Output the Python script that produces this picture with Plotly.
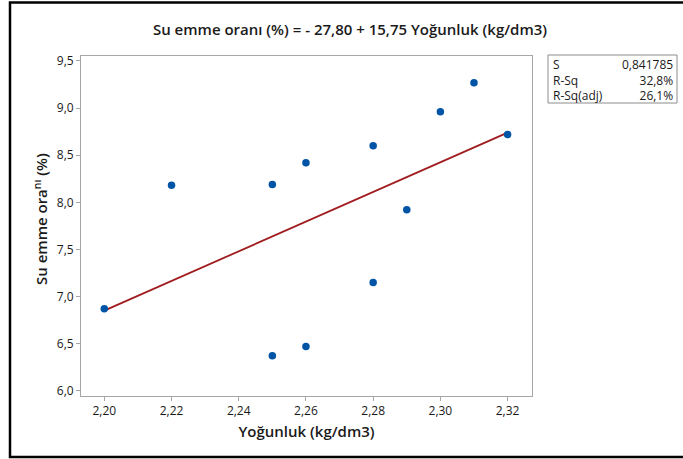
import plotly.graph_objects as go

# Density (kg/dm3) and water absorption (%) of the samples
yogunluk = [2.20, 2.22, 2.25, 2.25, 2.26, 2.26, 2.28, 2.28, 2.29, 2.30, 2.31, 2.32]
su_emme = [6.87, 8.18, 8.19, 6.37, 8.42, 6.47, 8.60, 7.15, 7.92, 8.96, 9.27, 8.72]

# Fitted regression: y = b0 + b1 * x
b0, b1 = -27.80, 15.75
fit_x = [2.20, 2.32]
fit_y = [b0 + b1 * x for x in fit_x]

# Model summary
stat_names = ["S", "R-Sq", "R-Sq(adj)"]
stat_values = ["0,841785", "32,8%", "26,1%"]

x_ticks = [2.20, 2.22, 2.24, 2.26, 2.28, 2.30, 2.32]
y_ticks = [6.0, 6.5, 7.0, 7.5, 8.0, 8.5, 9.0, 9.5]

FONT = "Open Sans"
TXT = "#1a1a1a"
AXIS = "#a6a6a6"

# plot area in pixels
L, R, T, B = 81, 532, 56, 396
W_IN, H_IN = R - L, B - T


def px_x(p):
    return (p - L) / W_IN


def px_y(p):
    return (B - p) / H_IN


fig = go.Figure()
fig.add_trace(go.Scatter(
    x=fit_x, y=fit_y, mode="lines",
    line=dict(color="#a01c1f", width=1.8),
    hoverinfo="skip", showlegend=False,
))
fig.add_trace(go.Scatter(
    x=yogunluk, y=su_emme, mode="markers",
    marker=dict(color="#0054a6", size=7.5),
    showlegend=False,
))

axis_common = dict(
    showgrid=False, zeroline=False,
    showline=True, linecolor=AXIS, linewidth=1, mirror=True,
    ticks="outside", ticklen=4, tickcolor=AXIS, tickwidth=1,
    tickfont=dict(family=FONT, size=12, color=TXT),
)

fig.update_layout(
    width=683, height=459,
    margin=dict(l=L, r=683 - R, t=T, b=459 - B),
    paper_bgcolor="white", plot_bgcolor="white",
    separators=",.",
    font=dict(family=FONT, color=TXT),
    title=dict(
        text="Su emme oranı (%) = - 27,80 + 15,75 Yoğunluk (kg/dm3)",
        font=dict(family=FONT, size=15, color=TXT, weight=600),
        x=350 / 683, xanchor="center", xref="container",
        y=1 - 30 / 459, yanchor="middle", yref="container",
    ),
    xaxis=dict(
        axis_common,
        range=[2.19307, 2.32726],
        tickvals=x_ticks, tickformat=".2f",
        title=dict(text="Yoğunluk (kg/dm3)", standoff=8,
                   font=dict(family=FONT, size=15, color=TXT, weight=600)),
    ),
    yaxis=dict(
        axis_common,
        range=[5.944, 9.553],
        tickvals=y_ticks, tickformat=".1f",
    ),
)

# Y axis title with the raised "nı"
fig.add_annotation(text="Su emme ora<sup>nı</sup> (%)",
                   xref="paper", yref="paper",
                   x=px_x(40), y=px_y(219), textangle=-90,
                   xanchor="center", yanchor="middle", showarrow=False,
                   font=dict(family=FONT, size=15, color=TXT, weight=600))

# Outer frame around the whole chart
fig.add_shape(type="rect", xref="paper", yref="paper",
              x0=px_x(10), x1=px_x(700),
              y0=px_y(457), y1=px_y(2.5),
              line=dict(color="black", width=2.5), layer="above")

# Model summary box: names left-aligned, values right-aligned
fig.add_shape(type="rect", xref="paper", yref="paper",
              x0=px_x(548), x1=px_x(677),
              y0=px_y(103), y1=px_y(55),
              line=dict(color="#8c8c8c", width=1))
fig.add_annotation(text="<br>".join(stat_names), xref="paper", yref="paper",
                   x=px_x(551), y=px_y(80), align="left",
                   xanchor="left", yanchor="middle", showarrow=False,
                   font=dict(family=FONT, size=12, color=TXT))
fig.add_annotation(text="<br>".join(stat_values), xref="paper", yref="paper",
                   x=px_x(675), y=px_y(80), align="right",
                   xanchor="right", yanchor="middle", showarrow=False,
                   font=dict(family=FONT, size=12, color=TXT))

fig.write_html("out.html")
